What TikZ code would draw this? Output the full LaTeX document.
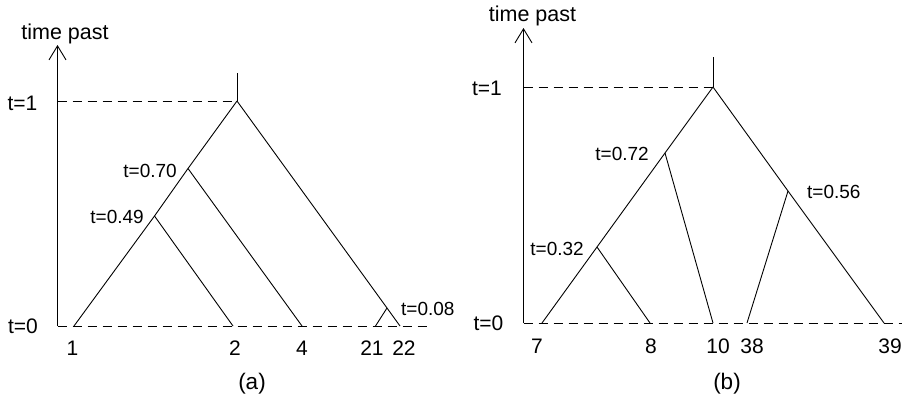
\documentclass[tikz,border=0pt]{standalone}
\usepackage{fontspec}
\setmainfont{Liberation Sans}
\usetikzlibrary{arrows.meta}
\tikzset{
  branch/.style={line width=0.9pt},
  guide/.style={line width=0.9pt, dash pattern=on 9pt off 6pt},
  axisline/.style={line width=0.9pt, -{Straight Barb[length=14pt,width=17pt,line width=0.9pt]}},
  big/.style={inner sep=0pt, font=\fontsize{21}{25}\selectfont, anchor=base},
  axlab/.style={inner sep=0pt, font=\fontsize{21}{25}\selectfont, anchor=base east},
  tlab/.style={inner sep=0pt, font=\fontsize{19}{23}\selectfont},
  titlelab/.style={inner sep=0pt, font=\fontsize{21.5}{25}\selectfont, anchor=base},
  caplab/.style={inner sep=0pt, font=\fontsize{22.5}{26}\selectfont, anchor=base},
}
\begin{document}
\begin{tikzpicture}[x=1pt,y=-1pt]
\useasboundingbox (0,0) rectangle (906,400);
% ---------- panel (a) ----------
\coordinate (aAxB) at (57.5,326);
\coordinate (aAxT) at (57.5,45);
\coordinate (aT1) at (57.5,101);
\coordinate (aRoot) at (237,101);
\coordinate (aStub) at (237,73);
\coordinate (aL1) at (74,326);
\coordinate (aL2) at (233,326);
\coordinate (aL4) at (302,326);
\coordinate (aL21) at (375.5,326);
\coordinate (aL22) at (400,326);
\coordinate (aEnd) at (430,326);
\coordinate (aN70) at (188,168.5);
\coordinate (aN49) at (154.5,216);
\coordinate (aN08) at (387,308);
\draw[axisline] (aAxB) -- (aAxT);
\draw[guide] (aT1) -- (aRoot);
\draw[guide] (aAxB) -- (aEnd);
\draw[branch] (aStub) -- (aRoot);
\draw[branch] (aRoot) -- (aN70) -- (aN49) -- (aL1);
\draw[branch] (aN49) -- (aL2);
\draw[branch] (aN70) -- (aL4);
\draw[branch] (aRoot) -- (aN08) -- (aL22);
\draw[branch] (aN08) -- (aL21);
\node[titlelab] (aTitle) at (65,39) {time past};
\node[axlab] (aLt1) at (37.5,110.5) {t=1};
\node[axlab] (aLt0) at (38,333.5) {t=0};
\node[tlab, anchor=base east] (aLab70) at (177,177) {t=0.70};
\node[tlab, anchor=base east] (aLab49) at (144,223) {t=0.49};
\node[tlab, anchor=base west] (aLab08) at (401,315) {t=0.08};
\node[big] (aTx1) at (72.5,355) {1};
\node[big] (aTx2) at (235,355) {2};
\node[big] (aTx4) at (302,355) {4};
\node[big] (aTx21) at (372,355) {21};
\node[big] (aTx22) at (404,355) {22};
\node[caplab] (aCap) at (252,389) {(a)};
% ---------- panel (b) ----------
\coordinate (bAxB) at (523.5,323);
\coordinate (bAxT) at (523.5,28);
\coordinate (bT1) at (523.5,87);
\coordinate (bRoot) at (713,87);
\coordinate (bStub) at (713,57);
\coordinate (bL7) at (542,323);
\coordinate (bL8) at (650,323);
\coordinate (bL10) at (713,323);
\coordinate (bL38) at (747,323);
\coordinate (bL39) at (884,323);
\coordinate (bEnd) at (902,323);
\coordinate (bN72) at (665,153);
\coordinate (bN32) at (597,247);
\coordinate (bN56) at (788,191);
\draw[axisline] (bAxB) -- (bAxT);
\draw[guide] (bT1) -- (bRoot);
\draw[guide] (bAxB) -- (bEnd);
\draw[branch] (bStub) -- (bRoot);
\draw[branch] (bRoot) -- (bN72) -- (bN32) -- (bL7);
\draw[branch] (bN32) -- (bL8);
\draw[branch] (bN72) -- (bL10);
\draw[branch] (bRoot) -- (bN56) -- (bL39);
\draw[branch] (bN56) -- (bL38);
\node[titlelab] (bTitle) at (532.5,21) {time past};
\node[axlab] (bLt1) at (502,95) {t=1};
\node[axlab] (bLt0) at (503.5,330) {t=0};
\node[tlab, anchor=base east] (bLab72) at (649,160) {t=0.72};
\node[tlab, anchor=base east] (bLab32) at (584,255) {t=0.32};
\node[tlab, anchor=base west] (bLab56) at (807,198) {t=0.56};
\node[big] (bTx7) at (537,353) {7};
\node[big] (bTx8) at (651,353) {8};
\node[big] (bTx10) at (718,353) {10};
\node[big] (bTx38) at (752,353) {38};
\node[big] (bTx39) at (890,353) {39};
\node[caplab] (bCap) at (727,389) {(b)};
\end{tikzpicture}
\end{document}
